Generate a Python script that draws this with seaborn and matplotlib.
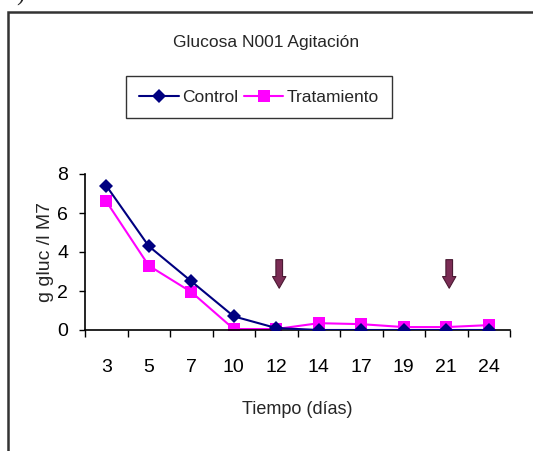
import matplotlib
matplotlib.use("Agg")
import matplotlib.pyplot as plt
import seaborn as sns
import numpy as np
import pandas as pd
from matplotlib.lines import Line2D

# ---- data ----
days = ["3", "5", "7", "10", "12", "14", "17", "19", "21", "24"]
control = [7.4, 4.3, 2.5, 0.7, 0.1, 0.0, 0.0, 0.0, 0.0, 0.0]
tratamiento = [6.6, 3.3, 1.95, 0.05, 0.05, 0.35, 0.3, 0.15, 0.15, 0.25]
arrow_days = ["12", "21"]
title = "Glucosa N001 Agitación"
xlabel = "Tiempo (días)"
ylabel = "g gluc /l M7"
yticks = [0, 2, 4, 6, 8]

sns.set_theme(style="white")
plt.rcParams["font.family"] = ["Liberation Sans Narrow", "Liberation Sans", "DejaVu Sans"]

W, H = 533, 451
fig = plt.figure(figsize=(W / 100, H / 100), dpi=100)
fig.patch.set_facecolor("white")

def fx(px):
    return px / W

def fy(py):
    return 1 - py / H

ax = fig.add_axes([fx(85), fy(330), fx(510) - fx(85), fy(174) - fy(330)])

pos = np.arange(len(days))
df = pd.DataFrame({
    "pos": np.concatenate([pos, pos]),
    "val": control + tratamiento,
    "serie": ["Control"] * len(days) + ["Tratamiento"] * len(days),
})

palette = {"Control": "#000080", "Tratamiento": "#FF00FF"}
sns.lineplot(data=df, x="pos", y="val", hue="serie", style="serie",
             markers={"Control": "D", "Tratamiento": "s"}, dashes=False,
             palette=palette, ax=ax, linewidth=1.5, markersize=8,
             markeredgewidth=0, legend=False)
for ln in ax.lines:
    if ln.get_marker() == "D":
        ln.set_markersize(7)
        ln.set_zorder(3)
    if ln.get_marker() == "s":
        ln.set_markersize(9)
        ln.set_zorder(2)

ax.set_xlim(-0.5, len(days) - 0.5)
ax.set_ylim(0, 8)
ax.set_xticks(pos)
ax.set_xticklabels(days)
ax.set_xticks(np.arange(len(days) + 1) - 0.5, minor=True)
ax.tick_params(axis="x", which="major", length=0, pad=21, labelsize=14, colors="black")
ax.tick_params(axis="x", which="minor", length=5, width=1, direction="out", color="black", bottom=True)
ax.set_yticks(yticks)
ax.tick_params(axis="y", which="major", length=4, width=1, direction="out", color="black",
               left=True, pad=8, labelsize=14, labelcolor="black")
for s in ["top", "right"]:
    ax.spines[s].set_visible(False)
for s in ["left", "bottom"]:
    ax.spines[s].set_visible(True)
    ax.spines[s].set_color("black")
    ax.spines[s].set_linewidth(1.2)
ax.set_facecolor("white")
ax.set_xlabel("")
ax.set_ylabel("")

# arrows
for d in arrow_days:
    i = days.index(d) + 0.07
    ax.annotate("", xy=(i, 2.0), xytext=(i, 3.75),
                arrowprops=dict(arrowstyle="simple,head_length=0.7,head_width=0.8,tail_width=0.4",
                                fc="#7B2D55", ec="#4a1a33", lw=0.8))

# texts
fig.text(fx(266), fy(42), title, ha="center", va="center", fontsize=12.5)
fig.text(fx(297), fy(410), xlabel, ha="center", va="center", fontsize=13)
fig.text(fx(46), fy(252), ylabel, ha="center", va="center", rotation=90, fontsize=14)

# legend
handles = [Line2D([], [], color="#000080", marker="D", markersize=7, lw=1.5, markeredgewidth=0),
           Line2D([], [], color="#FF00FF", marker="s", markersize=9, lw=1.5, markeredgewidth=0)]
leg = fig.legend(handles, ["Control", "Tratamiento"], loc="center",
                 bbox_to_anchor=(fx(259), fy(97)), ncol=2, fontsize=12.5,
                 frameon=True, fancybox=False, edgecolor="black", handlelength=2.3,
                 handletextpad=0.2, columnspacing=0.3, borderpad=0.75)
leg.get_frame().set_linewidth(1.0)

# outer frame (left and top edges; the rest lies beyond the picture)
fig.add_artist(Line2D([fx(8), fx(8), 1.1], [-0.1, fy(12), fy(12)],
                      transform=fig.transFigure, color="#333333", lw=1.8,
                      solid_joinstyle="miter"))
fig.text(fx(6), fy(0.5), "a)", ha="left", va="baseline", fontsize=18,
         family=["Liberation Serif", "DejaVu Serif"])

fig.savefig("out.png", dpi=100)
